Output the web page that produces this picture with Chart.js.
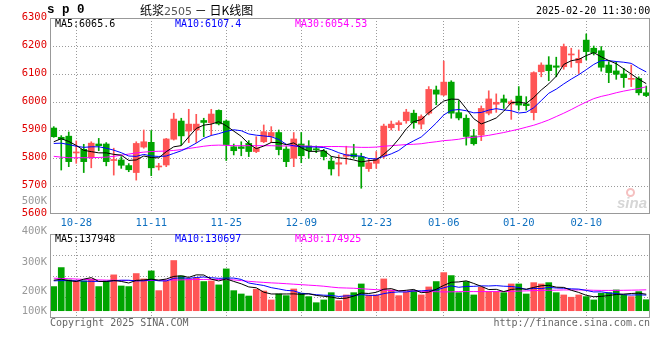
<!DOCTYPE html>
<html><head><meta charset="utf-8">
<script src="https://cdn.jsdelivr.net/npm/chart.js@4.4.1/dist/chart.umd.min.js"></script>
<style>
html,body{margin:0;padding:0;background:#fff;}
#wrap{position:relative;width:660px;height:360px;overflow:hidden;background:#fff;}
canvas{position:absolute;left:0;}
.t{position:absolute;white-space:pre;font-family:"DejaVu Sans Mono",monospace;font-size:10px;line-height:10px;}
.vl{left:0;width:47px;text-align:right;color:#999;font-size:10.5px;}
</style></head><body>
<div id="wrap">
<canvas id="pc" width="660" height="232" style="top:0"></canvas>
<canvas id="vc" width="660" height="132" style="top:228px"></canvas>
<div class="t" style="left:47px;top:4px;font-family:'Liberation Mono',monospace;font-size:12.5px;line-height:12px;font-weight:bold;">s p 0</div>
<div class="t" style="left:140px;top:4px;font-family:'Noto Sans CJK SC',sans-serif;font-size:12px;line-height:12px;">纸浆<span style="color:#555;font-family:'DejaVu Sans',sans-serif;font-size:11px;">2505</span> － 日K线图</div>
<div class="t" id="stamp" style="left:536px;top:6px;"></div>
<div class="t" id="pm5" style="left:55px;top:19px;color:#000;"></div>
<div class="t" id="pm10" style="left:175px;top:19px;color:#0000ff;"></div>
<div class="t" id="pm30" style="left:295px;top:19px;color:#ff00ff;"></div>
<div class="t" id="vm5" style="left:55px;top:234px;color:#000;"></div>
<div class="t" id="vm10" style="left:175px;top:234px;color:#0000ff;"></div>
<div class="t" id="vm30" style="left:295px;top:234px;color:#ff00ff;"></div>
<div class="t vl" id="vl0" style="top:195px;"></div>
<div class="t vl" id="vl1" style="top:225px;"></div>
<div class="t vl" id="vl2" style="top:256px;"></div>
<div class="t vl" id="vl3" style="top:285px;"></div>
<div class="t vl" id="vl4" style="top:305px;"></div>
<div class="t" style="left:50px;top:318px;color:#666;">Copyright 2025 SINA.COM</div>
<div class="t" style="left:450px;width:200px;text-align:right;top:318px;color:#666;">http://finance.sina.com.cn</div>
<div style="position:absolute;left:626px;top:188px;width:5px;height:5px;border:2px solid #f5c0c0;border-radius:50%;"></div>
<div class="t" style="left:617px;top:195px;font-family:'Liberation Sans',sans-serif;font-style:italic;font-weight:bold;font-size:15px;line-height:15px;color:#d6d6d6;">sina</div>
</div>
<script>
const stampText = '2025-02-20 11:30:00';
const dates = ['10-23','10-24','10-25','10-28','10-29','10-30','10-31','11-01','11-04','11-05','11-06','11-07','11-08','11-11','11-12','11-13','11-14','11-15','11-18','11-19','11-20','11-21','11-22','11-25','11-26','11-27','11-28','11-29','12-02','12-03','12-04','12-05','12-06','12-09','12-10','12-11','12-12','12-13','12-16','12-17','12-18','12-19','12-20','12-23','12-24','12-25','12-26','12-27','12-30','12-31','01-02','01-03','01-06','01-07','01-08','01-09','01-10','01-13','01-14','01-15','01-16','01-17','01-20','01-21','01-22','01-23','01-24','01-27','02-05','02-06','02-07','02-10','02-11','02-12','02-13','02-14','02-17','02-18','02-19','02-20'];
const tickDates = ['10-28','11-11','11-25','12-09','12-23','01-06','01-20','02-10'];
const priceMin = 5600, priceMax = 6300, priceStep = 100;
const volTickLabels = ['500K','400K','300K','200K','100K'];

const open = [5907,5874,5878,5818,5831,5801,5850,5850,5791,5793,
5773,5748,5839,5856,5768,5775,5867,5932,5896,5900,
5934,5926,5970,5932,5840,5840,5852,5823,5858,5877,
5891,5832,5799,5850,5843,5833,5825,5789,5778,5806,
5815,5805,5762,5781,5807,5908,5919,5933,5960,5921,
5960,6043,6025,6071,5962,5942,5879,5882,5960,5992,
6011,5993,6021,5993,5962,6108,6132,6129,6126,6168,
6140,6221,6192,6183,6132,6111,6100,6081,6084,6033];
const high = [5912,5880,5893,5861,5849,5858,5870,5855,5835,5805,
5780,5858,5900,5898,5781,5870,5960,5942,5974,5956,
5942,5974,5972,5936,5850,5858,5862,5876,5918,5912,
5900,5841,5891,5891,5862,5843,5831,5805,5811,5842,
5849,5817,5795,5823,5921,5932,5933,5974,5971,5954,
6055,6057,6146,6076,6005,5954,5902,5986,6040,6029,
6025,6007,6055,6019,6108,6140,6162,6160,6207,6192,
6186,6243,6200,6198,6144,6144,6120,6132,6090,6057];
const low = [5874,5757,5769,5781,5748,5765,5826,5772,5739,5763,
5751,5721,5835,5737,5757,5769,5864,5846,5855,5855,
5876,5882,5918,5791,5811,5808,5805,5819,5855,5855,
5811,5769,5769,5783,5799,5819,5793,5739,5736,5778,
5799,5692,5752,5763,5799,5900,5898,5924,5906,5904,
5954,5990,6022,5942,5936,5846,5846,5862,5954,5963,
5977,5938,5971,5971,5936,6090,6076,6090,6117,6124,
6102,6150,6168,6110,6069,6081,6052,6055,6025,6019];
const close = [5876,5866,5787,5821,5787,5853,5844,5787,5794,5774,
5758,5852,5858,5765,5770,5868,5939,5879,5921,5921,
5927,5957,5922,5848,5826,5834,5823,5836,5894,5891,
5830,5787,5868,5808,5826,5829,5805,5761,5783,5812,
5804,5770,5783,5795,5914,5921,5926,5964,5926,5948,
6045,6028,6071,5960,5943,5877,5851,5977,6011,5999,
5999,6001,5989,5987,6105,6132,6112,6124,6198,6171,
6156,6180,6176,6124,6105,6099,6087,6084,6033,6023];

const ma5 = [5858,5869,5859,5845,5827.4,5822.8,5818.4,5818.4,5813.0,5810.4,
5791.4,5793.0,5807.2,5801.4,5800.6,5822.6,5840.0,5844.2,5875.4,5905.6,
5917.4,5921.0,5929.6,5915.0,5896.0,5877.4,5850.6,5833.4,5842.6,5855.6,
5854.8,5847.6,5854.0,5836.8,5823.8,5823.6,5827.2,5805.8,5800.8,5798.0,
5793.0,5786.0,5790.4,5792.8,5813.2,5836.6,5867.8,5904.0,5930.2,5937.0,
5961.8,5982.2,6003.6,6010.4,6009.4,5975.8,5940.4,5921.6,5931.8,5943.0,
5967.4,5997.4,5999.8,5995.0,6016.2,6042.8,6065.0,6092.0,6134.2,6147.4,
6152.2,6165.8,6176.2,6161.4,6148.2,6136.8,6118.2,6099.8,6081.6,6065.6];
const ma10 = [5852,5853,5848,5842,5838,5840,5840,5835,5828,5818.9,
5807.1,5805.7,5812.8,5807.2,5805.5,5807.0,5816.5,5825.7,5838.4,5853.1,
5870.0,5880.5,5886.9,5895.2,5900.8,5897.4,5885.8,5881.5,5878.8,5875.8,
5866.1,5849.1,5843.7,5839.7,5839.7,5839.2,5837.4,5829.9,5818.8,5810.9,
5808.3,5806.6,5798.1,5796.8,5805.6,5814.8,5826.9,5847.2,5861.5,5875.1,
5899.2,5925.0,5953.8,5970.3,5973.2,5968.8,5961.3,5962.6,5971.1,5976.2,
5971.6,5968.9,5960.7,5963.4,5979.6,6005.1,6031.2,6045.9,6064.6,6081.8,
6097.5,6115.4,6134.1,6147.8,6147.8,6144.5,6142.0,6138.0,6121.5,6107.4];
const ma30 = [5806,5803,5801,5801,5801,5801,5802,5803,5806,5810,
5814,5818,5821,5823,5824,5825,5827,5830,5834,5838,
5842,5845,5846,5845,5844,5844,5844,5844,5844,5844,
5843,5843,5843,5843,5842,5841,5841,5841,5841,5840,
5839,5838,5838,5839,5842,5844,5846,5848,5849,5851,
5855,5858,5862,5864,5867,5872,5874,5877,5881,5886,
5891,5897,5903,5910,5917,5926,5936,5948,5960,5973,
5987,6000,6012,6020,6026,6033,6039,6044,6048,6054.53];

// volume in thousands (K)
const volume = [202,361,258,252,249,266,202,249,300,207,
202,311,266,333,168,249,420,291,266,272,
244,249,216,350,168,140,123,180,165,90,
140,126,182,146,118,67,90,151,84,132,
151,224,129,132,266,174,126,155,168,132,
199,244,319,294,151,244,132,197,160,160,
151,224,224,140,235,224,235,151,132,113,
132,118,90,146,151,174,132,118,160,92];
const vma5 = [255,264,252,244,264,277,245,244,253,245,
232,254,257,264,256,265,287,292,279,300,
299,264,249,266,245,225,199,192,155,140,
140,140,141,137,142,128,121,114,102,105,
122,148,144,154,180,185,165,171,178,151,
156,180,212,238,241,250,228,204,177,179,
160,178,184,180,195,209,212,197,195,171,
153,129,117,120,127,136,139,144,147,137.948];
const vma10 = [250,252,252,250,248,246,245,246,250,255,
255,250,250,259,250,249,271,275,271,278,
282,276,271,273,273,262,232,221,211,193,
182,170,166,146,141,134,130,128,119,124,
125,135,129,128,143,153,157,157,166,166,
171,173,192,208,196,203,204,208,207,210,
205,203,194,178,187,185,195,190,188,183,
181,170,157,158,149,144,134,131,133,130.697];
const vma30 = [272,270,268,265,262,260,258,256,255,254,
253,252,252,253,254,256,257,258,260,261,
262,262,261,260,258,252,246,241,237,233,
230,226,222,218,214,210,205,198,192,190,
188,184,180,176,173,170,168,166,165,163,
161,159,157,158,160,160,160,160,160,160,
160,162,164,166,168,170,171,172,174,174,
174,173,171,170,170,170,171,172,173,174.925];
const volMin = -61, volMax = 642;

const UP = '#ff5555', DOWN = '#00a400';
const colors = close.map((c, i) => c >= open[i] ? UP : DOWN);
const GRID = '#9a9a9a';
const last = a => a[a.length - 1];

document.getElementById('stamp').textContent = stampText;
document.getElementById('pm5').textContent = 'MA5:' + last(ma5);
document.getElementById('pm10').textContent = 'MA10:' + last(ma10);
document.getElementById('pm30').textContent = 'MA30:' + last(ma30);
document.getElementById('vm5').textContent = 'MA5:' + Math.round(last(vma5) * 1000);
document.getElementById('vm10').textContent = 'MA10:' + Math.round(last(vma10) * 1000);
document.getElementById('vm30').textContent = 'MA30:' + Math.round(last(vma30) * 1000);
volTickLabels.forEach((s, i) => document.getElementById('vl' + i).textContent = s);

Chart.defaults.font.family = '"DejaVu Sans Mono", monospace';
Chart.defaults.animation = false;

const frame = {
  id: 'frame',
  afterDraw(c) {
    const a = c.chartArea, x = c.ctx;
    x.save();
    x.strokeStyle = '#999';
    x.lineWidth = 1;
    x.setLineDash([]);
    x.strokeRect(Math.round(a.left) + 0.5, Math.round(a.top) + 0.5, Math.round(a.width) - 1, Math.round(a.height) - 1);
    x.restore();
  }
};

const dateGrid = ctx => tickDates.includes(dates[ctx.index]) ? GRID : 'rgba(0,0,0,0)';
const line = (data, color) => ({ type: 'line', data, borderColor: color, borderWidth: 1, pointRadius: 0, fill: false, tension: 0, order: 0 });

new Chart(document.getElementById('pc'), {
  type: 'bar',
  data: {
    labels: dates,
    datasets: [
      { data: low.map((l, i) => [l, high[i]]), backgroundColor: colors, barThickness: 1, grouped: false, order: 2 },
      { data: open.map((o, i) => [o, close[i]]), backgroundColor: colors, barThickness: 6, minBarLength: 1, grouped: false, order: 1 },
      line(ma5, '#000000'),
      line(ma10, '#0000ff'),
      line(ma30, '#ff00ff')
    ]
  },
  options: {
    responsive: false, devicePixelRatio: 1, animation: false,
    layout: { padding: { top: 18, right: 10, left: 0, bottom: 0 } },
    plugins: { legend: { display: false }, tooltip: { enabled: false } },
    scales: {
      x: {
        offset: true,
        grid: { offset: false, color: dateGrid, drawTicks: false, lineWidth: 1 },
        border: { display: false, dash: [1, 2] },
        ticks: { autoSkip: false, maxRotation: 0, minRotation: 0, padding: 3, color: '#0f70c0', font: { size: 10.5 },
          callback: (v, i) => tickDates.includes(dates[i]) ? dates[i] : '' },
        afterFit: s => { s.height = 18; }
      },
      y: {
        min: priceMin, max: priceMax,
        grid: { color: ctx => (ctx.tick && (ctx.tick.value === priceMin || ctx.tick.value === priceMax)) ? 'rgba(0,0,0,0)' : GRID, drawTicks: false },
        border: { display: false, dash: [1, 2] },
        ticks: { stepSize: priceStep, color: '#e00000', padding: 3, labelOffset: -1, font: { size: 10.5 },
          callback: v => String(v) },
        afterFit: s => { s.width = 50; }
      }
    }
  },
  plugins: [frame]
});

new Chart(document.getElementById('vc'), {
  type: 'bar',
  data: {
    labels: dates,
    datasets: [
      { data: volume, backgroundColor: colors, barThickness: 6, order: 1 },
      line(vma5, '#000000'),
      line(vma10, '#0000ff'),
      line(vma30, '#ff00ff')
    ]
  },
  options: {
    responsive: false, devicePixelRatio: 1, animation: false,
    layout: { padding: { top: 6, right: 10, left: 0, bottom: 42 } },
    plugins: { legend: { display: false }, tooltip: { enabled: false } },
    scales: {
      x: {
        offset: true,
        grid: { offset: false, color: dateGrid, drawTicks: false },
        border: { display: false, dash: [1, 2] },
        ticks: { display: false, autoSkip: false },
        afterFit: s => { s.height = 0; }
      },
      y: {
        min: volMin, max: volMax,
        afterBuildTicks: s => { s.ticks = [0, 1, 2, 3, 4].map(k => ({ value: s.min + k * (s.max - s.min) / 4 })); },
        grid: { color: ctx => (ctx.index === 0 || ctx.index === 4) ? 'rgba(0,0,0,0)' : GRID, drawTicks: false },
        border: { display: false, dash: [1, 2] },
        ticks: { display: false },
        afterFit: s => { s.width = 50; }
      }
    }
  },
  plugins: [frame]
});
</script>
</body></html>
